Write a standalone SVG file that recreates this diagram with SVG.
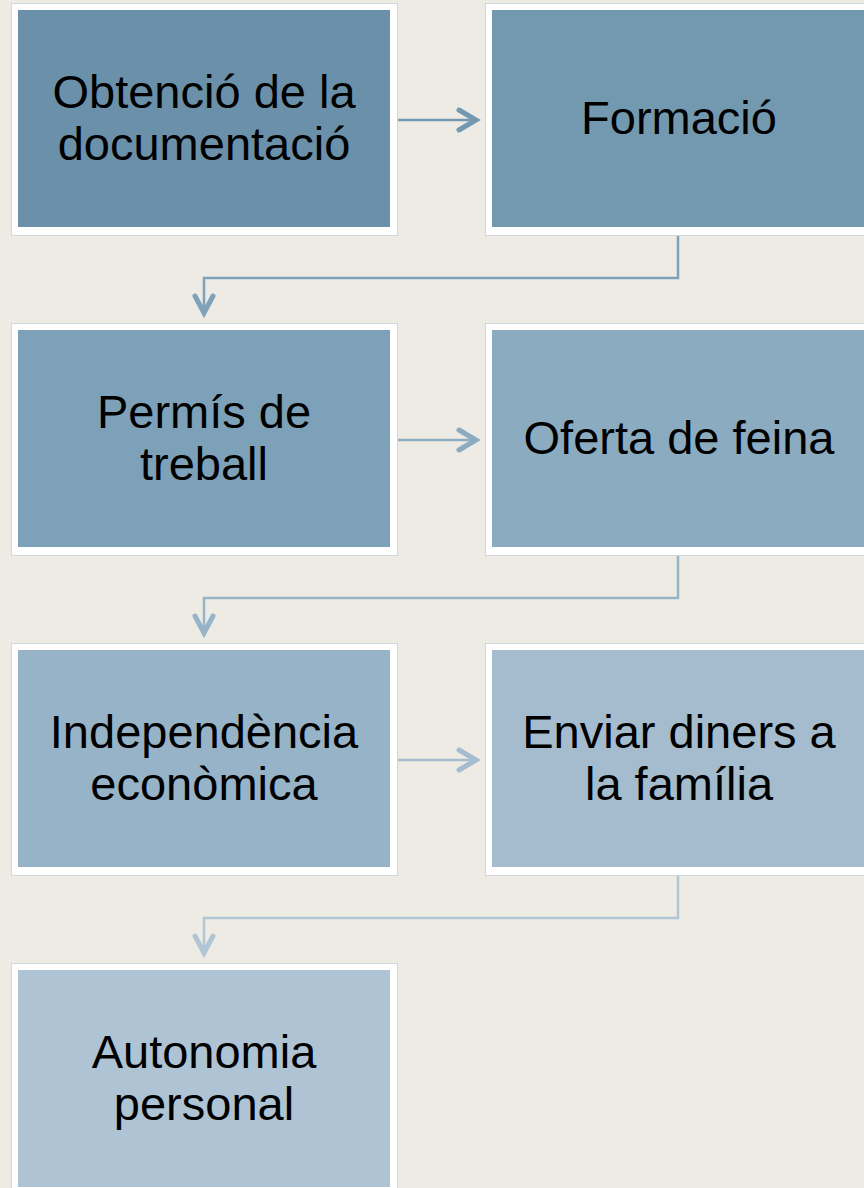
<svg xmlns="http://www.w3.org/2000/svg" width="864" height="1188" viewBox="0 0 864 1188">
<style>
.frame{fill:#ffffff;stroke:#cdd8df;stroke-width:1}
.t{font-family:"Liberation Sans",Arial,sans-serif;font-size:47px;fill:#000000;text-anchor:middle}
.ln{fill:none;stroke-width:2.5}
.hd{fill:none;stroke-width:5;stroke-linecap:round;stroke-linejoin:miter}
</style>
<rect x="0" y="0" width="864" height="1188" fill="#eeebe4"/>
<g id="connectors">
  <g stroke="#7399b2">
    <line class="ln" x1="397" y1="120" x2="474" y2="120"/>
    <polyline class="hd" points="459,110 476,120 459,130"/>
  </g>
  <g stroke="#7ea2b9">
    <polyline class="ln" points="678,235 678,278 204,278 204,311"/>
    <polyline class="hd" points="195,296 204,313 213,296"/>
  </g>
  <g stroke="#8aabc0">
    <line class="ln" x1="397" y1="440" x2="474" y2="440"/>
    <polyline class="hd" points="459,430 476,440 459,450"/>
  </g>
  <g stroke="#97b3c7">
    <polyline class="ln" points="678,555 678,598 204,598 204,631"/>
    <polyline class="hd" points="195,616 204,633 213,616"/>
  </g>
  <g stroke="#a4bccd">
    <line class="ln" x1="397" y1="760" x2="474" y2="760"/>
    <polyline class="hd" points="459,750 476,760 459,770"/>
  </g>
  <g stroke="#b0c6d5">
    <polyline class="ln" points="678,875 678,918 204,918 204,951"/>
    <polyline class="hd" points="195,936 204,953 213,936"/>
  </g>
</g>
<g id="n1">
  <rect class="frame" x="11.5" y="3.5" width="386" height="232"/>
  <rect x="18" y="10" width="372" height="217" fill="#6a91a9"/>
  <text class="t" x="204" y="108">Obtenció de la</text>
  <text class="t" x="204" y="160">documentació</text>
</g>
<g id="n2">
  <rect class="frame" x="485.5" y="3.5" width="386" height="232"/>
  <rect x="492" y="10" width="372" height="217" fill="#7399b1"/>
  <text class="t" x="679" y="134">Formació</text>
</g>
<g id="n3">
  <rect class="frame" x="11.5" y="323.5" width="386" height="232"/>
  <rect x="18" y="330" width="372" height="217" fill="#7da1b8"/>
  <text class="t" x="204" y="428">Permís de</text>
  <text class="t" x="204" y="480">treball</text>
</g>
<g id="n4">
  <rect class="frame" x="485.5" y="323.5" width="386" height="232"/>
  <rect x="492" y="330" width="372" height="217" fill="#8aabc0"/>
  <text class="t" x="679" y="454">Oferta de feina</text>
</g>
<g id="n5">
  <rect class="frame" x="11.5" y="643.5" width="386" height="232"/>
  <rect x="18" y="650" width="372" height="217" fill="#97b3c7"/>
  <text class="t" x="204" y="748">Independència</text>
  <text class="t" x="204" y="800">econòmica</text>
</g>
<g id="n6">
  <rect class="frame" x="485.5" y="643.5" width="386" height="232"/>
  <rect x="492" y="650" width="372" height="217" fill="#a4bccd"/>
  <text class="t" x="679" y="748">Enviar diners a</text>
  <text class="t" x="679" y="800">la família</text>
</g>
<g id="n7">
  <rect class="frame" x="11.5" y="963.5" width="386" height="232"/>
  <rect x="18" y="970" width="372" height="217" fill="#aec4d4"/>
  <text class="t" x="204" y="1068">Autonomia</text>
  <text class="t" x="204" y="1120">personal</text>
</g>
</svg>
